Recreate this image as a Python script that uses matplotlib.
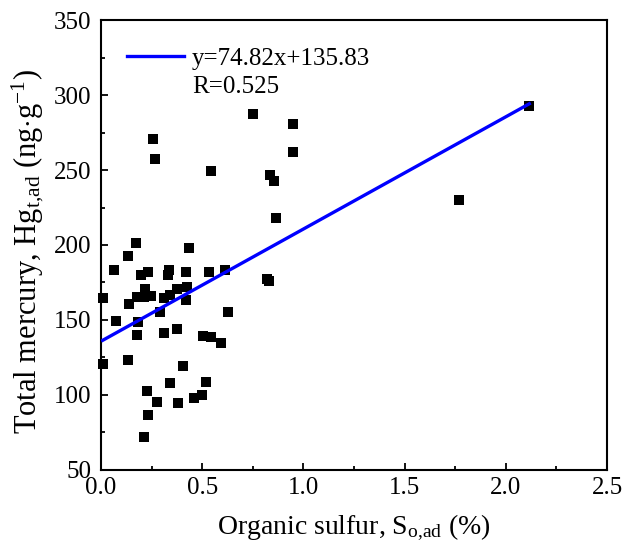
import matplotlib
matplotlib.use("Agg")
import matplotlib.pyplot as plt
from matplotlib.lines import Line2D
from matplotlib.ticker import MultipleLocator
import numpy as np

# organic sulfur (%) and total mercury (ng/g) per sample
sulfur = [0.008, 0.008, 0.064, 0.073, 0.135, 0.135, 0.138, 0.171, 0.176, 0.176,
          0.184, 0.198, 0.214, 0.214, 0.217, 0.226, 0.231, 0.234, 0.245, 0.258,
          0.267, 0.275, 0.291, 0.311, 0.311, 0.333, 0.336, 0.341, 0.343, 0.374,
          0.377, 0.380, 0.405, 0.420, 0.421, 0.423, 0.436, 0.458, 0.500, 0.506,
          0.520, 0.534, 0.542, 0.543, 0.593, 0.613, 0.627, 0.749, 0.818, 0.832,
          0.835, 0.855, 0.866, 0.947, 0.950, 1.769, 2.116]
mercury = [164.5, 120.4, 183.5, 149.3, 192.5, 123.3, 160.7, 201.1, 165.5, 140.0,
           148.9, 180.0, 72.2, 165.5, 170.5, 102.9, 86.7, 181.8, 166.2, 270.9,
           257.1, 95.1, 155.5, 164.9, 141.1, 180.2, 183.5, 166.7, 108.2, 143.8,
           170.5, 94.4, 119.5, 181.8, 163.5, 172.0, 197.8, 98.2, 99.8, 139.5,
           108.4, 181.8, 138.5, 249.3, 134.4, 183.5, 155.2, 287.3, 177.1, 176.2,
           246.5, 242.7, 218.0, 262.0, 280.5, 229.8, 292.9]

slope = 74.82
intercept = 135.83
r_value = 0.525

x_ticks = [0.0, 0.5, 1.0, 1.5, 2.0, 2.5]
y_ticks = [50, 100, 150, 200, 250, 300, 350]

plt.rcParams["font.family"] = ["Liberation Serif", "DejaVu Serif"]
plt.rcParams["mathtext.fontset"] = "custom"
plt.rcParams["mathtext.rm"] = "Liberation Serif"
plt.rcParams["mathtext.it"] = "Liberation Serif:italic"

fig = plt.figure(figsize=(6.22, 5.5), dpi=100)
ax = fig.add_axes([0.1624, 0.1455, 0.8135, 0.8181])

ax.scatter(sulfur, mercury, marker="s", s=46, color="black", linewidths=0,
           zorder=3, clip_on=False)

fit_x = np.array([min(sulfur), max(sulfur)])
ax.plot(fit_x, slope * fit_x + intercept, color="#0000FF", lw=2.4, zorder=4)

ax.set_xlim(0, 2.5)
ax.set_ylim(50, 350)
ax.set_xticks(x_ticks)
ax.set_xticklabels([f"{t:.1f}" for t in x_ticks])
ax.set_yticks(y_ticks)
ax.set_yticklabels([str(t) for t in y_ticks])
ax.xaxis.set_minor_locator(MultipleLocator(0.25))
ax.yaxis.set_minor_locator(MultipleLocator(25))
ax.tick_params(which="both", direction="in", width=1.3, labelsize=18,
               top=False, right=False)
ax.tick_params(which="major", length=5)
ax.tick_params(which="minor", length=3)
ax.tick_params(axis="x", pad=5)
ax.tick_params(axis="y", pad=7)
for spine in ax.spines.values():
    spine.set_linewidth(1.5)

ax.set_xlabel(r"Organic sulfur, S$_{\mathrm{o{,}ad}}$ (%)", fontsize=20, labelpad=10)
ax.set_ylabel(r"Total mercury, Hg$_{\mathrm{t{,}ad}}$ (ng$\cdot$g$^{-1}$)",
              fontsize=22)
ax.yaxis.set_label_coords(-0.109, 0.485)

handles = [Line2D([], [], color="#0000FF", lw=2.4),
           Line2D([], [], color="none")]
labels = [f"y={slope}x+{intercept}", f"R={r_value}"]
ax.legend(handles, labels, loc="upper left", frameon=False, fontsize=18,
          handlelength=2.3, handletextpad=0.3, labelspacing=0.25,
          borderpad=0, borderaxespad=0, bbox_to_anchor=(0.051, 0.94))

fig.savefig("out.png", dpi=100)
